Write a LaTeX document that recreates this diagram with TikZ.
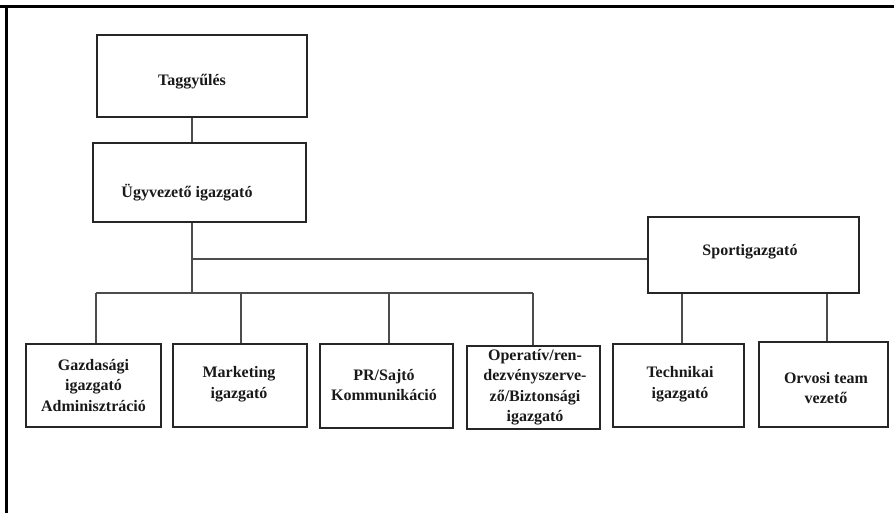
\documentclass[tikz,border=0pt]{standalone}
\usepackage{fontspec}
\setmainfont{Liberation Serif}
\begin{document}
\begin{tikzpicture}[x=1pt,y=-1pt,
  box/.style={draw=black!85, line width=1.6pt, rectangle, inner sep=0pt},
  lbl/.style={font=\bfseries\fontsize{16}{20.5}\selectfont, align=center, inner sep=0pt, text=black!90},
  conn/.style={draw=black!70, line width=1.3pt},
  frameline/.style={line width=2.7pt, draw=black}]

\useasboundingbox (0,0) rectangle (894,513);
\draw[frameline] (0,6.3) -- (894,6.3);
\draw[frameline] (6.8,5) -- (6.8,513);

% boxes
\node[box, line width=2.3pt, minimum width=210pt, minimum height=82pt] (tag) at (202,76) {};
\node[box, minimum width=213pt, minimum height=79pt] (ugy) at (199.5,182.5) {};
\node[box, minimum width=211pt, minimum height=76pt] (sport) at (753.5,255) {};
\node[box, minimum width=135pt, minimum height=83pt] (gaz) at (93.5,385.5) {};
\node[box, minimum width=134pt, minimum height=83pt] (mkt) at (240,385.5) {};
\node[box, minimum width=133pt, minimum height=84pt] (pr) at (386.5,386) {};
\node[box, minimum width=133pt, minimum height=83pt] (op) at (533.5,387.5) {};
\node[box, minimum width=131pt, minimum height=83pt] (tech) at (678.5,385.5) {};
\node[box, minimum width=129pt, minimum height=85pt] (orv) at (823.5,384.5) {};

% labels
\node[lbl] (tagt) at (192,82) {Taggyűlés};
\node[lbl] (ugyt) at (187,193) {Ügyvezető igazgató};
\node[lbl] (sportt) at (750,252) {Sportigazgató};
\node[lbl] (gazt) at (gaz.center) {Gazdasági\\igazgató\\Adminisztráció};
\node[lbl] (mktt) at (239,384) {Marketing\\igazgató};
\node[lbl] (prt) at (384,385) {PR/Sajtó\\Kommunikáció};
\node[lbl] (opt) at (535,387) {Operatív/ren-\\dezvényszerve-\\ző/Biztonsági\\igazgató};
\node[lbl] (techt) at (680,384) {Technikai\\igazgató};
\node[lbl] (orvt) at (826,388) {Orvosi team\\vezető};

% connector points
\coordinate (spine) at (192,259);
\coordinate (busJ) at (192,293);
\coordinate (busL) at (96,293);
\coordinate (busM) at (241,293);
\coordinate (busP) at (389,293);
\coordinate (busR) at (533,293);
\coordinate (dT) at (682,293);
\coordinate (dO) at (827,293);

\draw[conn] (tag.south -| spine) -- (ugy.north -| spine);
\draw[conn] (ugy.south -| spine) -- (busJ);
\draw[conn] (spine) -- (spine -| sport.west);
\draw[conn] (busL) -- (busR);
\draw[conn] (busL) -- (gaz.north -| busL);
\draw[conn] (busM) -- (mkt.north -| busM);
\draw[conn] (busP) -- (pr.north -| busP);
\draw[conn] (busR) -- (op.north -| busR);
\draw[conn] (sport.south -| dT) -- (tech.north -| dT);
\draw[conn] (sport.south -| dO) -- (orv.north -| dO);
\end{tikzpicture}
\end{document}
